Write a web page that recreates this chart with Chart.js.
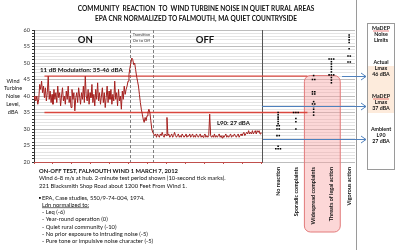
<!DOCTYPE html>
<html>
<head>
<meta charset="utf-8">
<script src="https://cdn.jsdelivr.net/npm/chart.js@4.4.1/dist/chart.umd.min.js"></script>
<style>
  html, body { margin: 0; padding: 0; background: #fff; }
  #wrap { width: 400px; height: 250px; position: relative; }
</style>
</head>
<body>
<div id="wrap"><canvas id="noiseChart" width="400" height="250"></canvas></div>
<script>
// On-off test, dBA read every half second
const timeStep = 0.5;
const onLevels = [
  40, 39, 38.5, 40, 37.5, 39, 43.5, 42, 44.5, 41,
  43, 39.5, 42.5, 38.5, 41, 46, 39, 41.5, 38, 40.5,
  37.5, 42, 39, 41, 38, 43, 39.5, 41, 37, 40,
  42.5, 38.5, 40, 37.5, 41.5, 39, 43, 38, 40, 36.5,
  42, 39, 41, 35.5, 39.5, 41, 38, 42.5, 40, 37.5,
  41, 39, 43, 38, 46, 40, 38.5, 42, 37.5, 41,
  39.5, 43.5, 38, 40.5, 37, 42, 39, 44, 38.5, 41,
  37.5, 40, 42.5, 38, 41, 36.5, 39.5, 43, 38, 41.5,
  39, 42, 37.5, 40.5, 38.5, 44.5, 39, 41, 37, 42,
  38.5, 40, 36, 41.5, 39, 43, 40.5, 42, 43, 44.5
];
const transitionLevels = [
  46.5, 48.5, 50, 51.5, 51, 49.5, 50, 48, 46, 44.5,
  43, 40.5, 38, 36, 34.5, 33, 32, 33.5, 32.5, 34,
  35, 36, 35, 32.5
];
const offLevels = [
  30, 29, 28.5, 28, 28.5, 27.5, 28.5, 28, 27.5, 28.5,
  28, 29, 28, 27.5, 28.5, 28, 33.5, 28, 28.5, 27.5,
  28, 28.5, 27.5, 28, 29, 28, 27.5, 28, 28.5, 27.5,
  28, 27.5, 28.5, 28, 27.5, 28, 28.5, 27.5, 28, 27.8,
  28.5, 27.5, 28, 28.5, 27.5, 28, 27.5, 28.5, 28, 27.5,
  28, 28.5, 27.5, 28, 27.5, 28, 28.5, 27.5, 28, 27.5,
  28, 34.5, 28, 27.5, 28, 27.5, 28.5, 27.5, 28, 27.5,
  28, 28.5, 27.5, 28, 27.3, 28, 27.5, 28, 28.5, 27.5,
  28, 27.5, 28, 28.5, 27.5, 28, 27.8, 28.5, 28, 27.5,
  28, 28.5, 27.5, 28, 28.5, 28, 28.5, 29, 28, 28.5,
  29, 28.5, 29.5, 28.5, 29, 28.5, 29.5, 28.5, 29, 29.5,
  28.5, 29.5, 29, 29.5, 28.5, 29
];
const levels = onLevels.concat(transitionLevels, offLevels);

// EPA community reaction case studies (normalized Ldn)
const reactionLabels = ['No reaction', 'Sporadic complaints', 'Widespread complaints', 'Threats of legal action', 'Vigorous action'];
const noReaction = [35, 34.3, 33.6, 33, 32.3, 31.6, 31, 31, 30, 30, 28, 28, 24.8, 24, 24, 24];
const sporadic = [35, 35, 35, 33.2, 32.2, 30];
const widespread = [46.2, 45, 45, 41.3, 41.3, 40.6, 40.6, 38.3, 37.6, 37.6, 36.8, 36, 35.1, 34.2];
const threats = [51.2, 51.2, 51.2, 50.4, 49.7, 48.9, 48.1, 47.3, 46.4, 46.4, 46.4, 45.6, 44.8, 44];
const vigorous = [58.5, 57.8, 57, 56.2, 54.3, 52.1, 52.1, 50.3, 50.3];
const reactionValues = [noReaction, sporadic, widespread, threats, vigorous];

const yMin = 20, yMax = 60;
const modulationRange = [35, 46];
const limitLevels = [46, 37, 27];   // Actual Lmax, MaDEP Lmax, Ambient L90
const transitionStart = 50.5, transitionEnd = 62.5, testLength = 120;

const FONT = 'Lato, "Open Sans", sans-serif';

// spread repeated values sideways inside their column
const dotData = [];
reactionValues.forEach((vals, col) => {
  const total = {}, seen = {};
  vals.forEach(v => { total[v] = (total[v] || 0) + 1; });
  vals.forEach(v => {
    const k = seen[v] || 0;
    seen[v] = k + 1;
    dotData.push({ x: col + (k - (total[v] - 1) / 2) * 0.13, y: v });
  });
});

function roundedRect(ctx, x0, y0, x1, y1, r) {
  ctx.beginPath();
  ctx.moveTo(x0 + r, y0);
  ctx.arcTo(x1, y0, x1, y1, r);
  ctx.arcTo(x1, y1, x0, y1, r);
  ctx.arcTo(x0, y1, x0, y0, r);
  ctx.arcTo(x0, y0, x1, y0, r);
  ctx.closePath();
}

function text(ctx, str, x, y, font, align, color) {
  ctx.font = font;
  ctx.textAlign = align || 'left';
  ctx.textBaseline = 'middle';
  ctx.fillStyle = color || '#111';
  ctx.fillText(str, x, y);
}

const overlay = {
  id: 'overlay',
  beforeDatasetsDraw(chart) {
    const { ctx, chartArea: a, scales: { x, x2, y } } = chart;
    ctx.save();
    // highlighted reaction band
    const bx0 = x2.getPixelForValue(1.48), bx1 = x2.getPixelForValue(3.5);
    roundedRect(ctx, bx0, y.getPixelForValue(46.2), bx1, 232, 6);
    ctx.fillStyle = 'rgba(248,160,160,0.42)';
    ctx.fill();
    ctx.strokeStyle = '#e27a7a';
    ctx.lineWidth = 1;
    ctx.stroke();

    // transition markers
    ctx.setLineDash([3, 2]);
    ctx.strokeStyle = '#7f7f7f';
    [transitionStart, transitionEnd].forEach(t => {
      const px = Math.round(x.getPixelForValue(t)) + 0.5;
      ctx.beginPath(); ctx.moveTo(px, a.top); ctx.lineTo(px, a.bottom); ctx.stroke();
    });
    ctx.setLineDash([]);

    // end of test window
    const ex = Math.round(x.getPixelForValue(testLength)) + 0.5;
    ctx.strokeStyle = '#555';
    ctx.beginPath(); ctx.moveTo(ex, a.top); ctx.lineTo(ex, a.bottom + 1); ctx.stroke();

    // time axis line
    ctx.strokeStyle = '#c0504d';
    ctx.beginPath(); ctx.moveTo(a.left, a.bottom + 0.5); ctx.lineTo(ex, a.bottom + 0.5); ctx.stroke();

    // modulation band
    ctx.strokeStyle = '#d9473f';
    ctx.lineWidth = 1.3;
    const mx0 = x.getPixelForValue(5.5), mx1 = x2.getPixelForValue(1.65);
    modulationRange.forEach(v => {
      const py = y.getPixelForValue(v);
      ctx.beginPath(); ctx.moveTo(mx0, py); ctx.lineTo(mx1, py); ctx.stroke();
    });
    ctx.restore();
  },
  afterDraw(chart) {
    const { ctx, chartArea: a, scales: { x, x2, y } } = chart;
    ctx.save();
    const cx = 196;
    text(ctx, 'COMMUNITY  REACTION  TO  WIND TURBINE NOISE IN QUIET RURAL AREAS', cx, 9, 'bold 6.5px ' + FONT, 'center');
    text(ctx, 'EPA CNR NORMALIZED TO FALMOUTH, MA QUIET COUNTRYSIDE', cx, 19, 'bold 6.5px ' + FONT, 'center');

    ['Wind', 'Turbine', 'Noise', 'Level,', 'dBA'].forEach((s, i) => {
      text(ctx, s, 13, 81 + i * 7.7, '5.5px ' + FONT, 'center');
    });

    text(ctx, 'ON', x.getPixelForValue(27), 40, 'bold 9.5px ' + FONT, 'center');
    text(ctx, 'OFF', x.getPixelForValue(90), 40, 'bold 9.5px ' + FONT, 'center');
    const tx = x.getPixelForValue((transitionStart + transitionEnd) / 2);
    text(ctx, 'Transition', tx, 35, '4px ' + FONT, 'center', '#333');
    text(ctx, 'On to Off', tx, 40.5, '4px ' + FONT, 'center', '#333');

    text(ctx, '11 dB Modulation: ' + modulationRange[0] + '-' + modulationRange[1] + ' dBA', 40, 70, 'bold 6.2px ' + FONT, 'left');
    text(ctx, 'L90: 27 dBA', 217, 123, 'bold 6px ' + FONT, 'left');

    // separator running the full height
    ctx.strokeStyle = '#9a9a9a';
    ctx.lineWidth = 1;
    ctx.beginPath(); ctx.moveTo(356.5, 0); ctx.lineTo(356.5, 250); ctx.stroke();

    // MaDEP panel
    const px0 = 367, px1 = 394;
    ctx.fillStyle = '#fdebdc';
    ctx.fillRect(px0, 66, px1 - px0, 47);
    ctx.strokeStyle = '#9a9a9a';
    ctx.strokeRect(px0 + 0.5, 23.5, px1 - px0, 146);
    const pc = (px0 + px1) / 2 + 0.5;
    const pf = 'bold 5.3px ' + FONT;
    [['MaDEP', 28], ['Noise', 34], ['Limits', 40],
     ['Actual', 62], ['Lmax', 68], ['46 dBA', 74.5],
     ['MaDEP', 96], ['Lmax', 102], ['37 dBA', 108],
     ['Ambient', 129], ['L90', 135], ['27 dBA', 141]].forEach(([s, py]) => text(ctx, s, pc, py, pf, 'center'));
    ctx.strokeStyle = '#e03030';
    ctx.lineWidth = 0.6;
    [31, 99].forEach(py => { ctx.beginPath(); ctx.moveTo(pc - 8, py); ctx.lineTo(pc + 8, py); ctx.stroke(); });

    // arrows towards the limits
    ctx.strokeStyle = '#4f81bd';
    ctx.lineWidth = 1;
    const starts = [x2.getPixelForValue(3.6), x.getPixelForValue(testLength), x.getPixelForValue(testLength) + 1];
    limitLevels.forEach((v, i) => {
      const py = Math.round(y.getPixelForValue(v)) + 0.5;
      const ax = px0 - 1;
      ctx.beginPath(); ctx.moveTo(starts[i], py); ctx.lineTo(ax, py); ctx.stroke();
      ctx.beginPath(); ctx.moveTo(ax - 5, py - 3.5); ctx.lineTo(ax, py); ctx.lineTo(ax - 5, py + 3.5); ctx.stroke();
    });

    // rotated reaction labels
    reactionLabels.forEach((s, i) => {
      ctx.save();
      ctx.translate(x2.getPixelForValue(i), 167);
      ctx.rotate(-Math.PI / 2);
      text(ctx, s, 0, 0, 'bold 5.5px ' + FONT, 'right');
      ctx.restore();
    });

    // notes
    const nf = '5.8px ' + FONT;
    text(ctx, 'ON-OFF TEST, FALMOUTH WIND 1 MARCH 7, 2012', 39, 171, 'bold 5.8px ' + FONT);
    text(ctx, 'Wind 6-8 m/s at hub. 2-minute test period shown (10-second tick marks).', 39, 178.5, nf);
    text(ctx, '221 Blacksmith Shop Road about 1200 Feet From Wind 1.', 39, 186, nf);
    ctx.fillStyle = '#111';
    ctx.fillRect(39, 197, 1.8, 1.8);
    text(ctx, 'EPA, Case studies, 550/9-74-004, 1974.', 42, 198.3, nf);
    text(ctx, 'Ldn normalized to:', 42, 204.8, nf);
    ctx.font = nf;
    const uw = ctx.measureText('Ldn normalized to:').width;
    ctx.fillRect(42, 207.5, uw, 0.6);
    ['- Leq (-6)', '- Year-round operation (0)', '- Quiet rural community (-10)',
     '- No prior exposure to intruding noise (-5)', '- Pure tone or impulsive noise character (-5)']
      .forEach((s, i) => text(ctx, s, 42, 212.3 + i * 7.3, nf));
    ctx.restore();
  }
};

new Chart(document.getElementById('noiseChart'), {
  data: {
    datasets: [{
      type: 'line',
      label: 'Wind Turbine Noise Level',
      data: levels.map((v, i) => ({ x: i * timeStep, y: v })),
      xAxisID: 'x',
      borderColor: '#a5201e',
      borderWidth: 1,
      pointRadius: 0,
      tension: 0
    }, {
      type: 'scatter',
      label: 'Community reaction',
      data: dotData,
      xAxisID: 'x2',
      pointStyle: 'rect',
      pointRadius: 1.1,
      backgroundColor: '#000',
      borderWidth: 0
    }]
  },
  options: {
    responsive: false,
    animation: false,
    devicePixelRatio: 1,
    layout: { padding: { left: 20, right: 45, top: 30, bottom: 88 } },
    plugins: { legend: { display: false }, tooltip: { enabled: false } },
    scales: {
      x: {
        type: 'linear',
        min: 0,
        max: 169,   // time axis runs on under the reaction columns
        afterBuildTicks: s => { s.ticks = s.ticks.filter(t => t.value <= testLength); },
        afterFit: s => { s.height = 0; },
        ticks: { display: false, stepSize: 10 },
        grid: { drawOnChartArea: false, tickLength: 2, color: '#c0504d' },
        border: { display: false }
      },
      x2: {
        type: 'linear',
        display: false,
        min: -13.75,
        max: 4.33
      },
      y: {
        min: yMin,
        max: yMax,
        afterFit: s => { s.width = 14; },
        ticks: {
          stepSize: 1,
          autoSkip: false,
          padding: 2,
          color: '#333',
          font: { family: FONT, size: 5.5 },
          callback: v => (v % 5 === 0 ? v : '')
        },
        grid: {
          color: c => (c.tick && c.tick.value % 5 === 0 ? '#bdbdbd' : '#e4e4e4'),
          tickColor: '#333',
          tickLength: 2
        },
        border: { color: '#333' }
      }
    }
  },
  plugins: [overlay]
});
</script>
</body>
</html>
